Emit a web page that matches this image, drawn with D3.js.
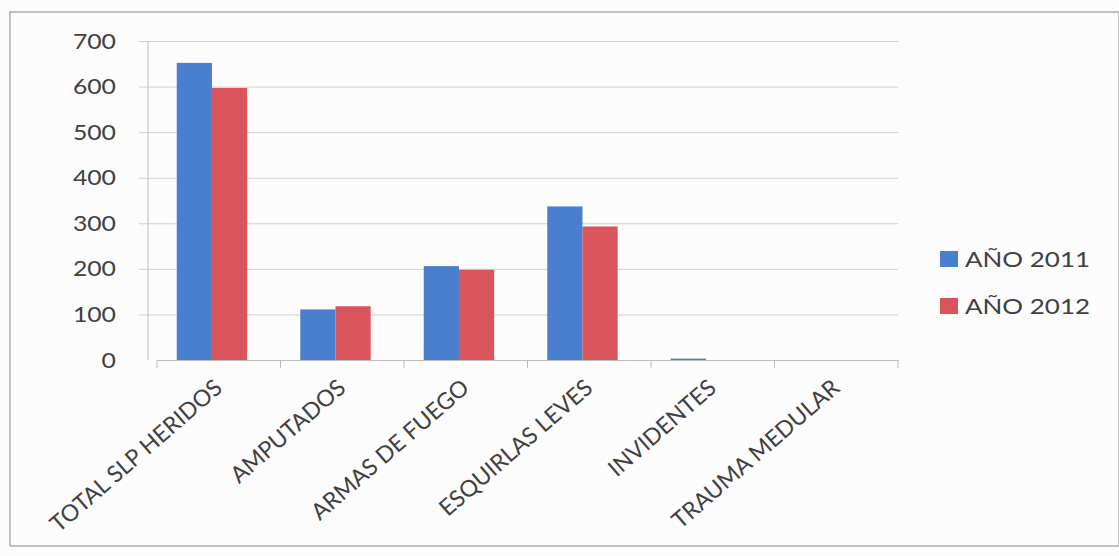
<!DOCTYPE html>
<html lang="es">
<head>
    <meta charset="UTF-8">
    <title>Heridos por tipo, 2011 - 2012</title>
    <script src="https://d3js.org/d3.v7.min.js"></script>
    <style>
        body { margin: 0; background: #fcfcfc; }
        text { font-family: Lato, "Open Sans", sans-serif; fill: #404040; }
        .grid line { stroke: #cfcfcf; }
        .grid path { display: none; }
    </style>
</head>
<body>
    <svg id="chart" width="1119" height="556"></svg>

    <script>
        // data
        const categories = ["TOTAL SLP HERIDOS", "AMPUTADOS", "ARMAS DE FUEGO", "ESQUIRLAS LEVES", "INVIDENTES", "TRAUMA MEDULAR"];
        const series = ["AÑO 2011", "AÑO 2012"];
        const values2011 = [652, 111, 206, 337, 3, 0];
        const values2012 = [597, 118, 198, 293, 0, 0];
        const yTicks = [0, 100, 200, 300, 400, 500, 600, 700];
        const colors = ["#4a7fd0", "#d9545b"];

        const svg = d3.select("#chart");
        const margin = { top: 41, left: 148, right: 898, bottom: 360 };
        const stretch = 1.18; // the original text is a bit wide

        // outer frame of the chart
        svg.append("rect")
            .attr("x", 10).attr("y", 12)
            .attr("width", 1119 - 10).attr("height", 546 - 12)
            .attr("fill", "none")
            .attr("stroke", "#9a9a9a")
            .attr("stroke-width", 1.2);

        const x = d3.scaleBand()
            .domain(categories)
            .range([157, margin.right]);

        const x1 = d3.scaleBand()
            .domain(series)
            .range([x.bandwidth() * 0.16, x.bandwidth() * 0.73]);

        const y = d3.scaleLinear()
            .domain([0, 700])
            .range([margin.bottom, margin.top]);

        // gridlines
        svg.append("g")
            .attr("class", "grid")
            .attr("transform", `translate(${margin.right},0)`)
            .call(d3.axisLeft(y).tickValues(yTicks.slice(1)).tickSize(margin.right - 139).tickFormat(""));

        // y axis line + labels
        svg.append("line")
            .attr("x1", margin.left).attr("x2", margin.left)
            .attr("y1", y(700)).attr("y2", y(0))
            .attr("stroke", "#bdbdbd");

        svg.append("g")
            .selectAll("text")
            .data(yTicks)
            .join("text")
            .attr("transform", d => `translate(116,${y(d)}) scale(${stretch},1)`)
            .attr("dy", "0.36em")
            .attr("text-anchor", "end")
            .attr("font-size", 21)
            .text(d => d);

        // bars
        const rows = categories.map((c, i) => ({ cat: c, vals: [values2011[i], values2012[i]] }));
        const groups = svg.append("g")
            .selectAll("g")
            .data(rows)
            .join("g")
            .attr("transform", d => `translate(${x(d.cat)},0)`);

        groups.selectAll("rect")
            .data(d => d.vals.map((v, k) => ({ key: series[k], v, k })))
            .join("rect")
            .attr("x", d => x1(d.key))
            .attr("y", d => y(d.v))
            .attr("width", x1.bandwidth())
            .attr("height", d => y(0) - y(d.v))
            .attr("fill", d => colors[d.k]);

        // x axis
        const xAxis = svg.append("g")
            .attr("transform", `translate(0,${margin.bottom})`)
            .call(d3.axisBottom(x).tickSize(0).tickFormat(""));
        xAxis.select(".domain").attr("stroke", "#bdbdbd");
        xAxis.selectAll(".tick").remove();

        // tick marks between categories
        const edges = categories.map(c => x(c)).concat([margin.right]);
        svg.append("g")
            .selectAll("line")
            .data(edges)
            .join("line")
            .attr("x1", d => d).attr("x2", d => d)
            .attr("y1", margin.bottom).attr("y2", margin.bottom + 8)
            .attr("stroke", "#bdbdbd");

        // rotated category labels
        svg.append("g")
            .selectAll("text")
            .data(categories)
            .join("text")
            .attr("transform", d => `translate(${x(d) + x.bandwidth() / 2 + 5},${margin.bottom + 30}) rotate(-41)`)
            .attr("text-anchor", "end")
            .attr("font-size", 23)
            .text(d => d);

        // legend
        const legend = svg.append("g")
            .selectAll("g")
            .data(series)
            .join("g")
            .attr("transform", (d, i) => `translate(940,${251 + i * 47})`);

        legend.append("rect")
            .attr("width", 18).attr("height", 16)
            .attr("fill", (d, i) => colors[i]);

        legend.append("text")
            .attr("transform", `translate(25,16) scale(${stretch},1)`)
            .attr("font-size", 22)
            .text(d => d);
    </script>
</body>
</html>
